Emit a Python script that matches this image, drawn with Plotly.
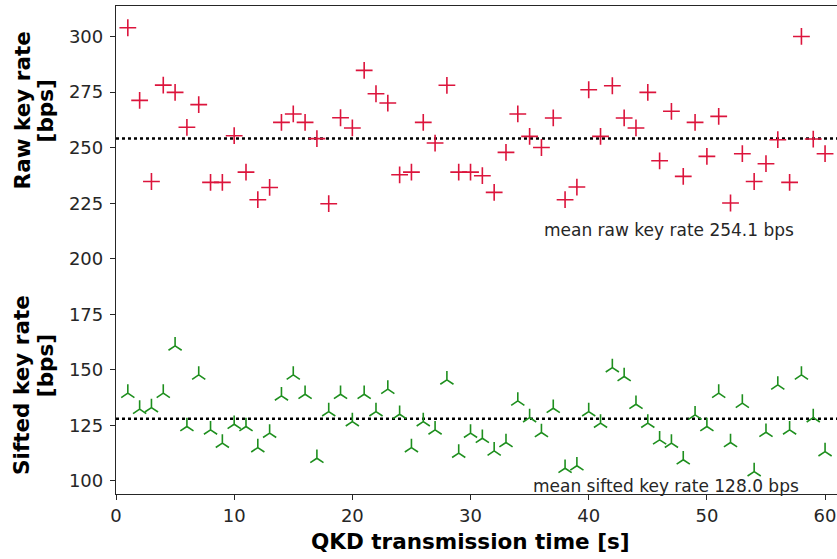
import plotly.graph_objects as go

time_s = list(range(1, 61))

raw_rate = [304.0, 271.3, 234.8, 278.2, 274.9, 259.2, 269.4, 234.4, 234.4, 255.4,
            239.0, 226.6, 232.1, 261.4, 265.2, 261.4, 254.1, 224.8, 263.5, 258.9,
            284.8, 274.3, 270.1, 237.8, 239.0, 261.4, 252.1, 278.1, 239.0, 239.0,
            237.4, 229.9, 247.9, 265.2, 255.1, 250.1, 263.4, 226.6, 232.3, 276.1,
            255.1, 277.9, 263.4, 258.9, 274.9, 244.1, 266.4, 237.1, 261.4, 246.1,
            264.1, 225.1, 247.3, 234.8, 242.8, 253.6, 234.4, 300.1, 253.9, 247.3]

sifted_rate = [139.5, 132.3, 133.0, 139.5, 160.8, 124.5, 147.7, 123.0, 117.0, 125.5,
               124.5, 115.0, 121.5, 138.3, 147.7, 139.0, 110.2, 131.2, 139.0, 126.7,
               139.0, 131.2, 141.3, 130.0, 115.0, 126.7, 123.0, 145.5, 112.5, 121.5,
               119.2, 113.5, 117.3, 136.0, 128.5, 121.8, 132.7, 105.7, 106.8, 131.2,
               126.0, 151.0, 147.0, 134.5, 126.0, 118.5, 117.0, 109.5, 129.7, 124.5,
               139.5, 117.3, 135.0, 104.2, 121.9, 143.2, 123.0, 147.7, 128.5, 113.2]

mean_raw = 254.1
mean_sifted = 128.0

x_ticks = [0, 10, 20, 30, 40, 50, 60]
y_ticks = [100, 125, 150, 175, 200, 225, 250, 275, 300]

FONT = "DejaVu Sans"
RED = "#dc143c"
GREEN = "#1e8f1e"
INK = "#262626"

fig = go.Figure()
fig.add_trace(go.Scatter(
    x=time_s, y=raw_rate, mode="markers",
    marker=dict(symbol="cross-thin", size=12, line=dict(width=1.6, color=RED), color=RED),
    showlegend=False, cliponaxis=False))
fig.add_trace(go.Scatter(
    x=time_s, y=sifted_rate, mode="markers",
    marker=dict(symbol="y-up", size=11, line=dict(width=1.6, color=GREEN), color=GREEN),
    showlegend=False, cliponaxis=False))

for m in (mean_raw, mean_sifted):
    fig.add_shape(type="line", xref="paper", x0=0, x1=1, yref="y", y0=m, y1=m,
                  line=dict(color="black", width=2.5, dash="dot"), layer="below")

fig.add_annotation(x=46.8, y=213.1, xref="x", yref="y",
                   xanchor="center", yanchor="middle",
                   text=f"mean raw key rate {mean_raw:.1f} bps", showarrow=False,
                   font=dict(family=FONT, size=17, color=INK))
fig.add_annotation(x=46.5, y=97.7, xref="x", yref="y",
                   xanchor="center", yanchor="middle",
                   text=f"mean sifted key rate {mean_sifted:.1f} bps", showarrow=False,
                   font=dict(family=FONT, size=17, color=INK))

label_font = dict(family=FONT, size=21.5, color="black")
def label(text, x, y, angle=-90):
    fig.add_annotation(x=x, y=y, xref="paper", yref="paper",
                       xanchor="center", yanchor="middle",
                       text=text, textangle=angle, showarrow=False, font=label_font)

label("<b>Raw key rate</b>", -0.1304, 0.786)
label("<b>[bps]</b>", -0.0985, 0.786)
label("<b>Sifted key rate</b>", -0.1304, 0.2234)
label("<b>[bps]</b>", -0.0985, 0.264)
fig.add_annotation(x=30, y=-0.098, xref="x", yref="paper",
                   xanchor="center", yanchor="middle",
                   text="<b>QKD transmission time [s]</b>",
                   showarrow=False, font=label_font)

fig.update_layout(
    width=837, height=559,
    margin=dict(l=116, r=0, t=6, b=65, autoexpand=False),
    paper_bgcolor="white", plot_bgcolor="white",
    font=dict(family=FONT, size=18, color=INK),
    xaxis=dict(range=[0, 61.01], tickvals=x_ticks, ticks="outside", ticklen=5,
               tickcolor=INK, showline=True, linecolor=INK, linewidth=1.3,
               mirror=True, showgrid=False, zeroline=False, automargin=False),
    yaxis=dict(range=[94.1, 313.8], tickvals=y_ticks, ticks="outside", ticklen=5,
               tickcolor=INK, showline=True, linecolor=INK, linewidth=1.3,
               showgrid=False, zeroline=False, automargin=False,
               ticklabelstandoff=3),
)

fig.write_html("out.html", config={"displayModeBar": False},
               post_script="document.body.style.margin='0';document.body.style.overflow='hidden';")
